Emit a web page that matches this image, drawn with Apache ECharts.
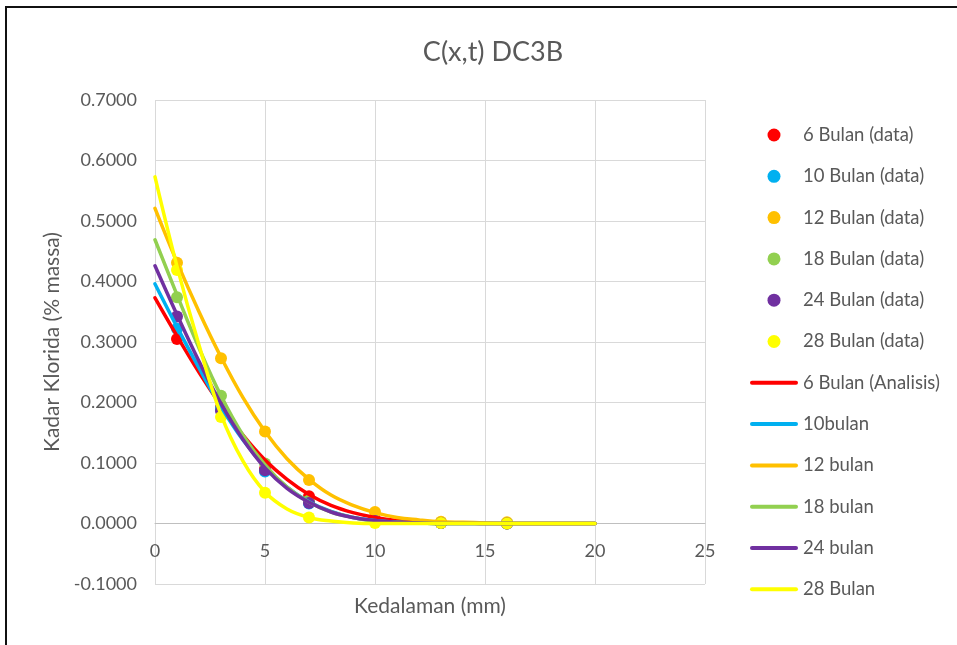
<!DOCTYPE html>
<html>
<head>
<meta charset="utf-8">
<title>C(x,t) DC3B</title>
<script src="https://cdn.jsdelivr.net/npm/echarts@6/dist/echarts.min.js"></script>
<style>
    html, body {margin: 0; padding: 0; background: #fff; overflow: hidden;}
    #wrap {position: relative; width: 957px; height: 645px; overflow: hidden;}
    #frame {position: absolute; left: 5px; top: 6px; width: 1000px; height: 1000px; border: 2px solid #111;}
    #main {position: absolute; left: 0; top: 0; width: 957px; height: 645px;}
</style>
</head>
<body>
<div id="wrap">
    <div id="frame"></div>
    <div id="main"></div>
</div>
<script>
// measured depths (mm)
var depthData = [1, 3, 5, 7, 10, 13, 16];
var data6 = [0.305, 0.192, 0.090, 0.045, 0.007, 0.001, 0.000];
var data10 = [0.322, 0.190, 0.086, 0.033, 0.004, 0.001, 0.000];
var data12 = [0.431, 0.273, 0.152, 0.072, 0.019, 0.003, 0.002];
var data18 = [0.374, 0.211, 0.099, 0.038, 0.004, 0.001, 0.000];
var data24 = [0.342, 0.186, 0.088, 0.034, 0.004, 0.001, 0.000];
var data28 = [0.419, 0.176, 0.051, 0.010, 0.001, 0.001, 0.000];

// analysis curves, depth 0..20 mm
var depthLine = [0, 1, 2, 3, 4, 5, 6, 7, 8, 9, 10, 11, 12, 13, 14, 15, 16, 17, 18, 19, 20];
var line6 = [0.373, 0.310, 0.250, 0.195, 0.146, 0.105, 0.073, 0.048, 0.030, 0.018, 0.010, 0.005, 0.003, 0.001, 0.001, 0, 0, 0, 0, 0, 0];
var line10 = [0.396, 0.325, 0.257, 0.193, 0.138, 0.094, 0.060, 0.036, 0.020, 0.010, 0.005, 0.002, 0.001, 0, 0, 0, 0, 0, 0, 0, 0];
var line12 = [0.521, 0.432, 0.350, 0.275, 0.208, 0.152, 0.107, 0.073, 0.047, 0.030, 0.018, 0.010, 0.006, 0.003, 0.002, 0.001, 0, 0, 0, 0, 0];
var line18 = [0.469, 0.378, 0.290, 0.211, 0.146, 0.097, 0.060, 0.035, 0.019, 0.010, 0.004, 0.002, 0.001, 0, 0, 0, 0, 0, 0, 0, 0];
var line24 = [0.426, 0.345, 0.268, 0.198, 0.139, 0.092, 0.058, 0.035, 0.019, 0.010, 0.005, 0.002, 0.001, 0, 0, 0, 0, 0, 0, 0, 0];
var line28 = [0.573, 0.425, 0.295, 0.180, 0.103, 0.052, 0.024, 0.010, 0.004, 0.001, 0, 0, 0, 0, 0, 0, 0, 0, 0, 0, 0];

var pointNames = ['6 Bulan (data)', '10 Bulan (data)', '12 Bulan (data)', '18 Bulan (data)', '24 Bulan (data)', '28 Bulan (data)'];
var lineNames = ['6 Bulan (Analisis)', '10bulan', '12 bulan', '18 bulan', '24 bulan', '28 Bulan'];
var colors = ['#FF0000', '#00B0F0', '#FFC000', '#92D050', '#7030A0', '#FFFF00'];

var font = 'Lato, "Open Sans", sans-serif';
var textColor = '#595959';
// thin rounded bar used as legend icon for the analysis curves
var lineIcon = 'path://M2,0 L46,0 A2,2 0 0 1 46,4 L2,4 A2,2 0 0 1 2,0 Z';

var pairs = function (xs, ys) {
    return xs.map(function (x, i) {
        return [x, ys[i]];
    });
};

var pointSets = [data6, data10, data12, data18, data24, data28];
var lineSets = [line6, line10, line12, line18, line24, line28];

var series = [];
pointSets.forEach(function (set, i) {
    series.push({
        name: pointNames[i],
        type: 'scatter',
        symbol: 'circle',
        symbolSize: 12,
        itemStyle: {color: colors[i], opacity: 1},
        data: pairs(depthData, set)
    });
});
lineSets.forEach(function (set, i) {
    series.push({
        name: lineNames[i],
        type: 'line',
        smooth: 0.4,
        symbol: 'none',
        showSymbol: false,
        itemStyle: {color: colors[i]},
        lineStyle: {color: colors[i], width: 3.5, cap: 'round', join: 'round'},
        data: pairs(depthLine, set)
    });
});

var myChart = echarts.init(document.getElementById('main'));
var option = {
    animation: false,
    textStyle: {fontFamily: font},
    title: {
        text: 'C(x,t) DC3B',
        left: 488,
        top: 34,
        textAlign: 'center',
        textStyle: {fontFamily: font, fontSize: 27, fontWeight: 'normal', color: textColor}
    },
    legend: {
        orient: 'vertical',
        left: 750,
        top: 124,
        padding: 0,
        itemWidth: 48,
        itemHeight: 13,
        itemGap: 19.3,
        textStyle: {fontFamily: font, fontSize: 18.5, color: textColor, lineHeight: 22},
        data: pointNames.map(function (n) {
            return {name: n, icon: 'circle'};
        }).concat(lineNames.map(function (n) {
            return {name: n, icon: lineIcon};
        }))
    },
    grid: {left: 155, right: 252, top: 100, bottom: 61, containLabel: false, outerBoundsMode: 'none'},
    xAxis: {
        type: 'value',
        min: 0,
        max: 25,
        interval: 5,
        name: 'Kedalaman (mm)',
        nameLocation: 'middle',
        nameGap: 12,
        nameTextStyle: {fontFamily: font, fontSize: 21, color: textColor},
        axisLine: {show: true, onZero: true, lineStyle: {color: '#BFBFBF', width: 1}},
        axisTick: {show: false},
        axisLabel: {fontFamily: font, fontSize: 18, color: textColor, margin: -42},
        splitLine: {show: true, lineStyle: {color: '#D9D9D9', width: 1}}
    },
    yAxis: {
        type: 'value',
        min: -0.1,
        max: 0.7,
        interval: 0.1,
        name: 'Kadar Klorida (% massa)',
        nameLocation: 'middle',
        nameGap: 87,
        nameTextStyle: {fontFamily: font, fontSize: 21, color: textColor},
        axisLine: {show: false},
        axisTick: {show: false},
        axisLabel: {
            fontFamily: font, fontSize: 18, color: textColor, margin: 18,
            formatter: function (v) {
                return v.toFixed(4);
            }
        },
        splitLine: {show: true, lineStyle: {color: '#D9D9D9', width: 1}}
    },
    series: series
};
myChart.setOption(option);
</script>
</body>
</html>
